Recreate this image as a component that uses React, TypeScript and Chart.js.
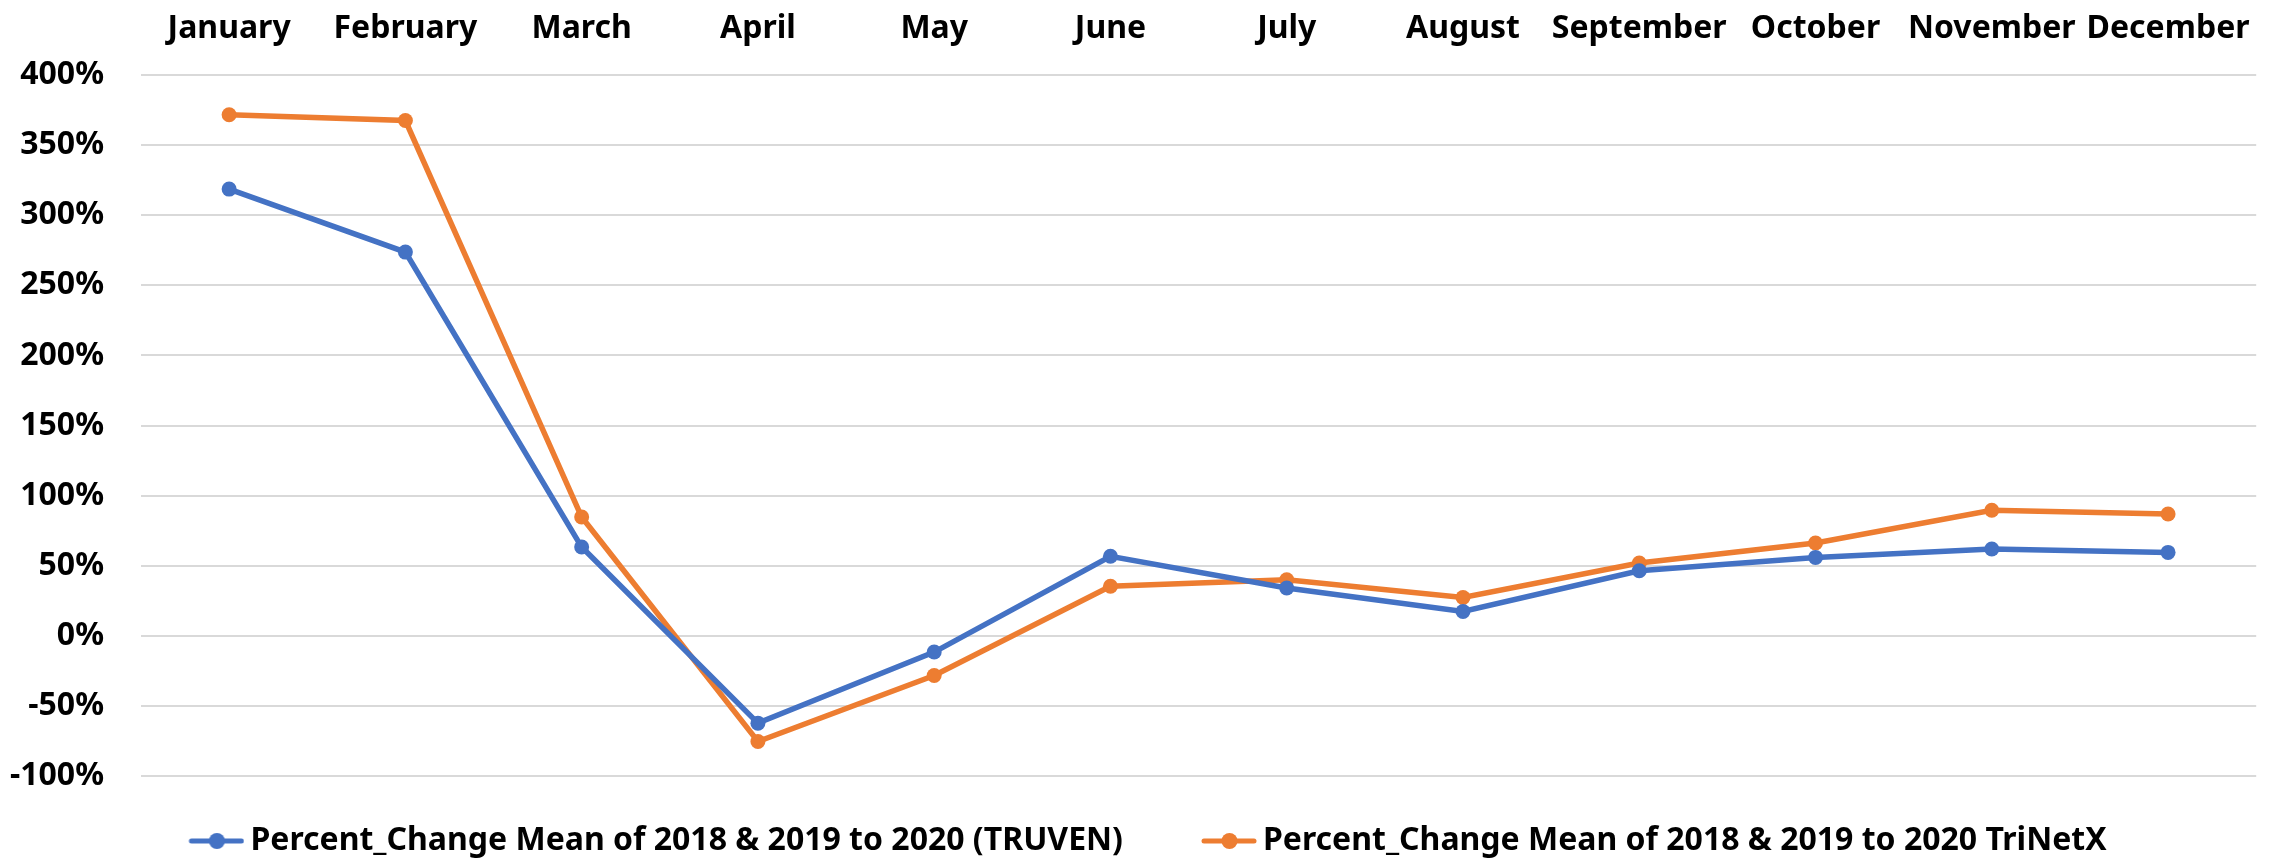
import React, { useEffect, useRef } from "react";
import { Chart, registerables } from "chart.js";

Chart.register(...registerables);

const months = [
  "January", "February", "March", "April", "May", "June",
  "July", "August", "September", "October", "November", "December",
];

const truven = [318.6, 273.7, 63.3, -62.3, -11.6, 56.7, 34.1, 17.3, 46.4, 55.9, 61.9, 59.5];
const trinetx = [371.6, 367.5, 84.7, -75.4, -28.3, 35.3, 40.0, 27.3, 51.9, 66.2, 89.5, 86.9];

const seriesLabels = [
  "Percent_Change Mean of 2018 & 2019 to 2020 (TRUVEN)",
  "Percent_Change Mean of 2018 & 2019 to 2020 TriNetX",
];

const BLUE = "#4472C4";
const ORANGE = "#ED7D31";

function legendImage(color: string): HTMLCanvasElement {
  const c = document.createElement("canvas");
  c.width = 95;
  c.height = 20;
  const ctx = c.getContext("2d")!;
  ctx.strokeStyle = color;
  ctx.lineWidth = 5;
  ctx.lineCap = "round";
  ctx.beginPath();
  ctx.moveTo(42, 10);
  ctx.lineTo(92, 10);
  ctx.stroke();
  ctx.fillStyle = color;
  ctx.beginPath();
  ctx.arc(67.5, 10, 8, 0, Math.PI * 2);
  ctx.fill();
  return c;
}

export default function App() {
  const ref = useRef<HTMLCanvasElement | null>(null);

  useEffect(() => {
    if (!ref.current) return;
    const imgs = [legendImage(BLUE), legendImage(ORANGE)];
    const font = { family: "'Noto Sans', sans-serif", size: 32, weight: "bold" as const };
    const chart = new Chart(ref.current, {
      type: "line",
      data: {
        labels: months,
        datasets: [
          {
            label: seriesLabels[0],
            data: truven,
            borderColor: BLUE,
            backgroundColor: BLUE,
            borderWidth: 5.5,
            pointRadius: 7.5,
            pointBorderWidth: 0,
            pointBackgroundColor: BLUE,
            tension: 0,
          },
          {
            label: seriesLabels[1],
            data: trinetx,
            borderColor: ORANGE,
            backgroundColor: ORANGE,
            borderWidth: 5.5,
            pointRadius: 7.5,
            pointBorderWidth: 0,
            pointBackgroundColor: ORANGE,
            tension: 0,
          },
        ],
      },
      options: {
        responsive: false,
        animation: false,
        layout: { padding: { left: 0, right: 11, top: 0, bottom: -6 } },
        plugins: {
          tooltip: { enabled: false },
          legend: {
            position: "bottom",
            labels: {
              usePointStyle: true,
              pointStyleWidth: 75,
              padding: 49,
              color: "#000",
              font,
              generateLabels: (ch: any) =>
                ch.data.datasets.map((ds: any, i: number) => ({
                  text: ds.label,
                  pointStyle: imgs[i],
                  fillStyle: ds.borderColor,
                  strokeStyle: ds.borderColor,
                  lineWidth: 0,
                  hidden: false,
                  datasetIndex: i,
                  fontColor: "#000",
                })),
            },
          },
        },
        scales: {
          x: {
            type: "category",
            position: "top",
            offset: true,
            grid: { display: false, drawTicks: false },
            border: { display: false },
            ticks: { color: "#000", font, padding: 27, maxRotation: 0, autoSkip: false },
            afterFit: (s: any) => { s.height = 75; },
          },
          y: {
            min: -100,
            max: 400,
            grid: { color: "#D9D9D9", lineWidth: 2, drawTicks: false },
            border: { display: false },
            ticks: {
              stepSize: 50,
              color: "#000",
              font,
              padding: 37,
              callback: (v: any) => `${v}%`,
            },
            afterFit: (s: any) => { s.width = 141; },
          },
        },
      },
    });
    return () => chart.destroy();
  }, []);

  return (
    <div style={{ position: "absolute", left: 0, top: 0, width: 2277, height: 861, background: "#fff" }}>
      <canvas ref={ref} width={2277} height={861} style={{ width: 2277, height: 861 }} />
    </div>
  );
}
